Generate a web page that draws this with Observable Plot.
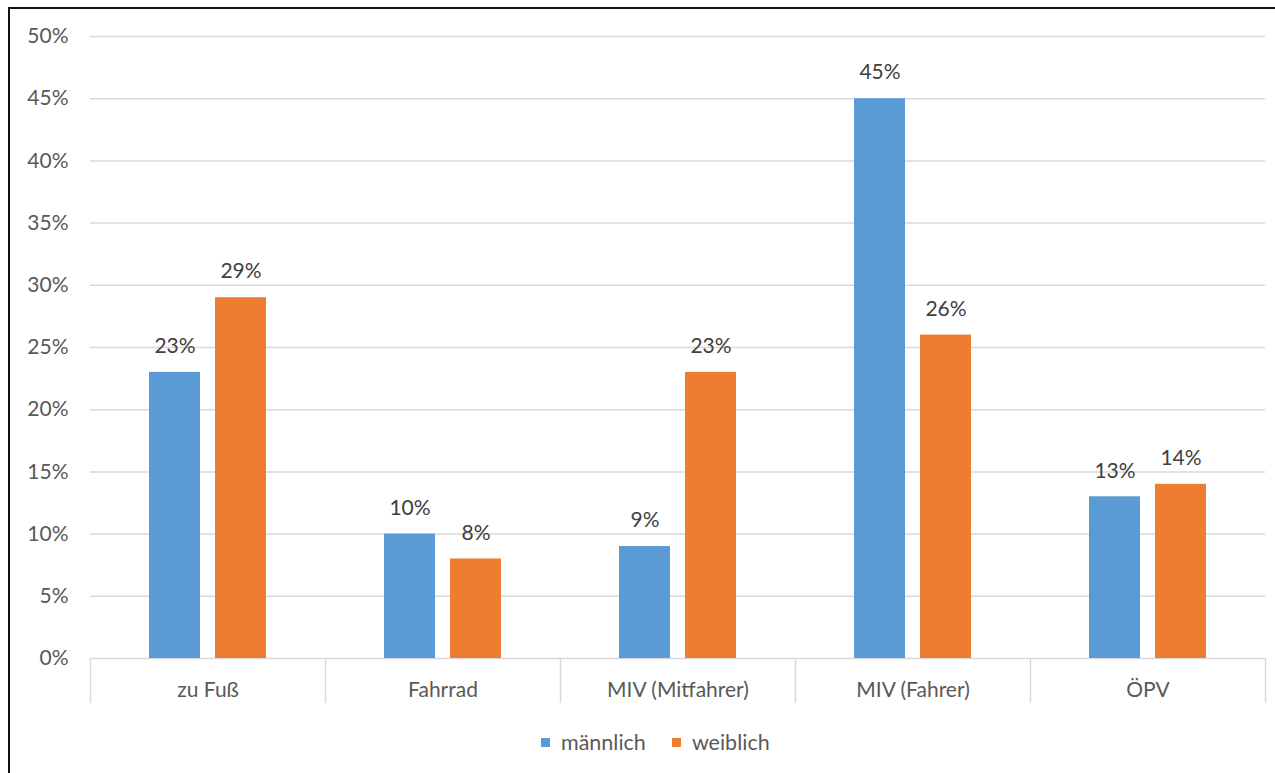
<!DOCTYPE html>
<html>
<head>
<meta charset="utf-8">
<script src="https://cdn.jsdelivr.net/npm/d3@7"></script>
<script src="https://cdn.jsdelivr.net/npm/@observablehq/plot@0.6"></script>
<style>
  html, body { margin: 0; padding: 0; background: #fff; }
  #chart { position: relative; width: 1275px; height: 773px; overflow: hidden; font-family: Lato, "Open Sans", sans-serif; }
  #chart svg { display: block; }
  .frame { position: absolute; left: 8px; top: 7px; right: -10px; bottom: -10px;
           border-left: 2px solid #111; border-top: 2px solid #111; pointer-events: none; }
  .legend { position: absolute; top: 729px; left: 541px; display: flex; align-items: center;
            font-size: 21.5px; color: #595959; }
  .legend .item { display: flex; align-items: center; margin-right: 26px; }
  .legend .swatch { width: 9px; height: 9px; margin-right: 11px; }
</style>
</head>
<body>
<div id="chart">
  <div id="plot"></div>
  <div class="legend" id="legend"></div>
  <div class="frame"></div>
</div>
<script>
// Verkehrsmittelwahl nach Geschlecht (Anteile)
const categories = ["zu Fuß", "Fahrrad", "MIV (Mitfahrer)", "MIV (Fahrer)", "ÖPV"];
const series = ["männlich", "weiblich"];
const maennlich = [0.23, 0.10, 0.09, 0.45, 0.13];
const weiblich = [0.29, 0.08, 0.23, 0.26, 0.14];
const yTicks = [0, 0.05, 0.10, 0.15, 0.20, 0.25, 0.30, 0.35, 0.40, 0.45, 0.50];
const colors = ["#5B9BD5", "#ED7D31"];

const rows = categories.flatMap((c, i) => [
  {kategorie: c, geschlecht: series[0], anteil: maennlich[i]},
  {kategorie: c, geschlecht: series[1], anteil: weiblich[i]}
]);

const pct = d3.format(".0%");

const W = 1275, H = 715;
const mL = 90, mR = 10, mT = 36, mB = 57;
const facetW = (W - mL - mR) / categories.length;
const sepLen = 45;

const plot = Plot.plot({
  width: W,
  height: H,
  marginLeft: mL,
  marginRight: mR,
  marginTop: mT,
  marginBottom: mB,
  style: {fontFamily: "Lato, 'Open Sans', sans-serif", fontSize: "21px", color: "#595959", background: "transparent"},
  fx: {domain: categories, padding: 0, label: null, tickSize: 0, tickPadding: 24, axis: "bottom", fontSize: 22},
  x: {domain: series, paddingInner: 0.224, paddingOuter: 0.866, axis: null},
  y: {domain: [0, 0.5], ticks: yTicks, tickFormat: pct, tickSize: 0, tickPadding: 22, label: null},
  color: {domain: series, range: colors},
  marks: [
    Plot.ruleY(yTicks, {stroke: "#d9d9d9", strokeWidth: 1.5}),
    // Trennlinien zwischen den Kategorien unterhalb der Achse
    Plot.ruleX(categories, {fx: d => d, x: null, y1: 0, y2: 0, insetBottom: -sepLen, dx: -facetW / 2, stroke: "#d9d9d9", strokeWidth: 1.5}),
    Plot.ruleX(categories.slice(-1), {fx: d => d, x: null, y1: 0, y2: 0, insetBottom: -sepLen, dx: facetW / 2, stroke: "#d9d9d9", strokeWidth: 1.5}),
    Plot.barY(rows, {fx: "kategorie", x: "geschlecht", y: "anteil", fill: "geschlecht"}),
    Plot.text(rows, {fx: "kategorie", x: "geschlecht", y: "anteil", text: d => pct(d.anteil), dy: -26, fill: "#404040", fontSize: 21})
  ]
});
document.getElementById("plot").appendChild(plot);

const legend = d3.select("#legend");
series.forEach((s, i) => {
  const item = legend.append("div").attr("class", "item");
  item.append("div").attr("class", "swatch").style("background", colors[i]);
  item.append("span").text(s);
});
</script>
</body>
</html>
